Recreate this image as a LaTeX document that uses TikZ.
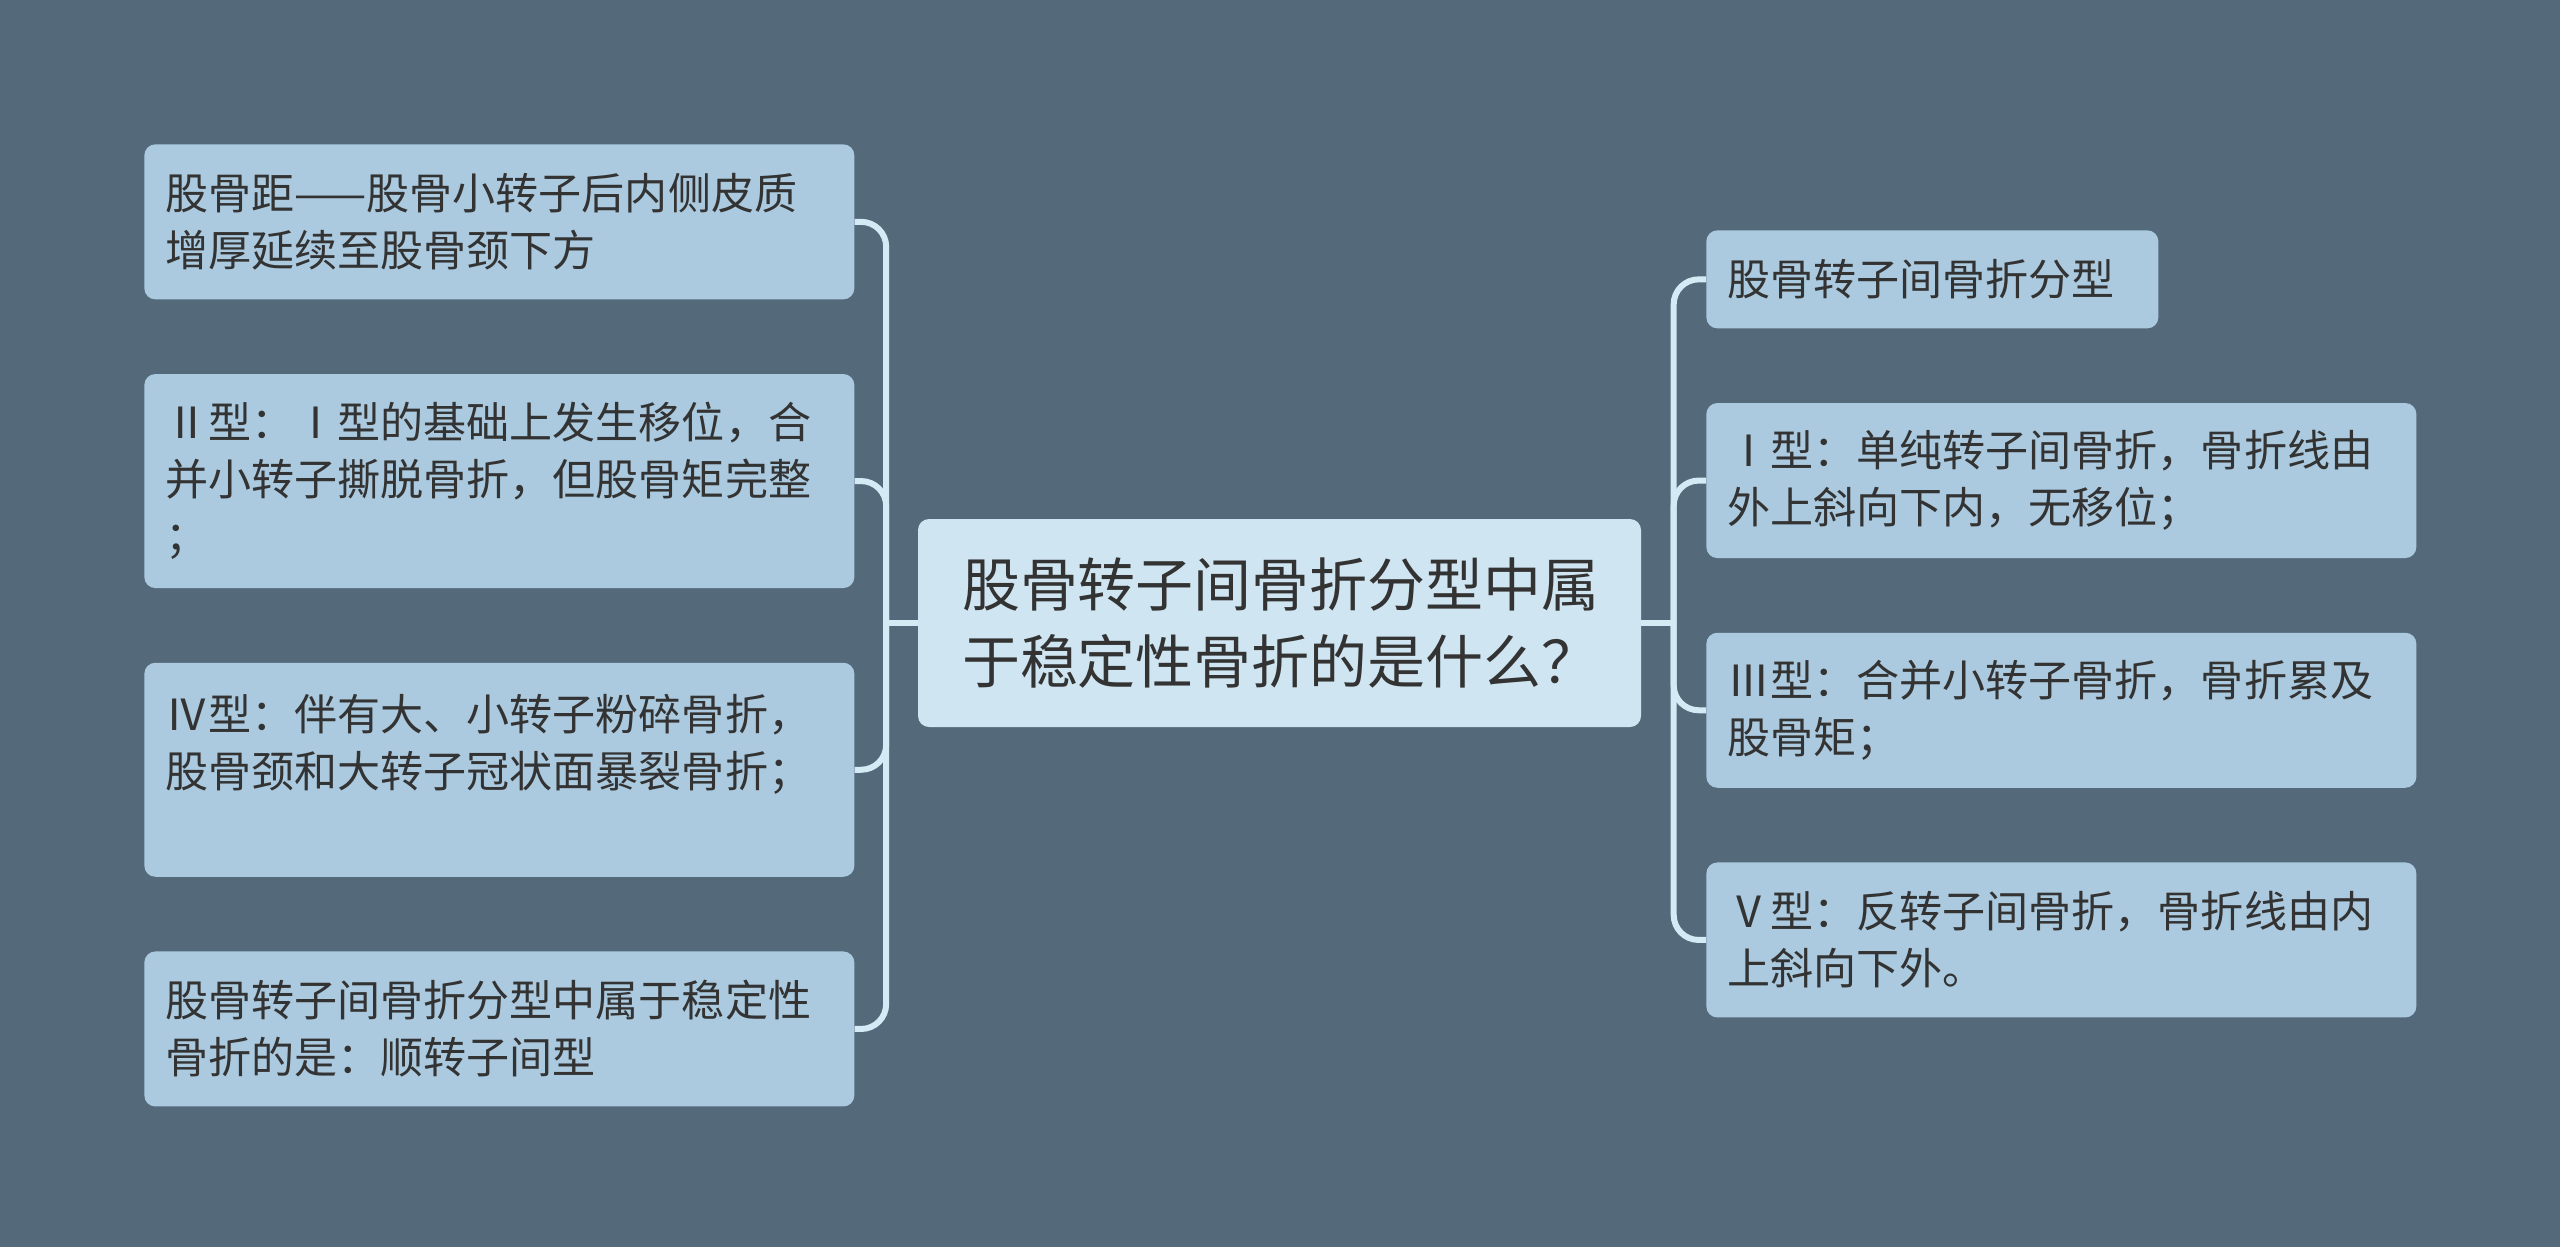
\documentclass[tikz,border=0pt]{standalone}
\usepackage{fontspec}
\setmainfont{Noto Sans CJK SC}
\usepackage{xcolor}
\usepackage{tikz}
\usetikzlibrary{positioning,calc}
\definecolor{bgslate}{HTML}{546A7B}
\definecolor{leafblue}{HTML}{ABCADF}
\definecolor{rootblue}{HTML}{CFE5F1}
\definecolor{linkblue}{HTML}{D4EAF5}
\definecolor{inkgray}{HTML}{333333}
\tikzset{
  leaf/.style={fill=leafblue, rounded corners=0.22cm, align=left, text width=13.36cm, inner xsep=0.42cm, inner ysep=0pt, minimum height=3.1cm, text=inkgray, font=\fontsize{24.5}{32.4}\selectfont},
  root/.style={fill=rootblue, rounded corners=0.22cm, align=left, text width=12.7cm, inner xsep=0.88cm, inner ysep=0pt, minimum height=4.16cm, text=inkgray, font=\fontsize{33}{44.2}\selectfont},
  link/.style={draw=linkblue, line width=0.12cm, rounded corners=0.5cm}
}
\begin{document}
\begin{tikzpicture}[node distance=1.48cm]
    \fill[bgslate] (0,0) rectangle (51.2,-24.94);
    \node[root] (q) at (25.59,-12.46) {股骨转子间骨折分型中属\\于稳定性骨折的是什么？};

    \node[leaf, anchor=north west] (fe) at (2.88,-2.88) {股骨距——股骨小转子后内侧皮质\\增厚延续至股骨颈下方};
    \node[leaf, minimum height=4.28cm, below=of fe.south west, anchor=north west] (t2) {Ⅱ型：Ⅰ型的基础上发生移位，合\\并小转子撕脱骨折，但股骨矩完整\\；};
    \node[leaf, minimum height=4.28cm, below=of t2.south west, anchor=north west] (t4) {Ⅳ型：伴有大、小转子粉碎骨折，\\股骨颈和大转子冠状面暴裂骨折；\\\mbox{}};
    \node[leaf, below=of t4.south west, anchor=north west] (st) {股骨转子间骨折分型中属于稳定性\\骨折的是：顺转子间型};

    \node[leaf, text width=8.2cm, minimum height=1.96cm, anchor=north west] (cls) at (34.12,-4.6) {股骨转子间骨折分型};
    \node[leaf, below=of cls.south west, anchor=north west] (t1) {Ⅰ型：单纯转子间骨折，骨折线由\\外上斜向下内，无移位；};
    \node[leaf, below=of t1.south west, anchor=north west] (t3) {Ⅲ型：合并小转子骨折，骨折累及\\股骨矩；};
    \node[leaf, below=of t3.south west, anchor=north west] (t5) {Ⅴ型：反转子间骨折，骨折线由内\\上斜向下外。};

    \coordinate (lj) at ($(q.west)!0.5!(q.west -| fe.east)$);
    \coordinate (rj) at ($(q.east)!0.5!(q.east -| cls.west)$);
    \draw[link] (q.west) -- (lj);
    \draw[link] (q.east) -- (rj);
    \foreach \n in {fe,t2,t4,st}
      \draw[link] (lj) |- (\n.east);
    \foreach \n in {cls,t1,t3,t5}
      \draw[link] (rj) |- (\n.west);
\end{tikzpicture}
\end{document}
